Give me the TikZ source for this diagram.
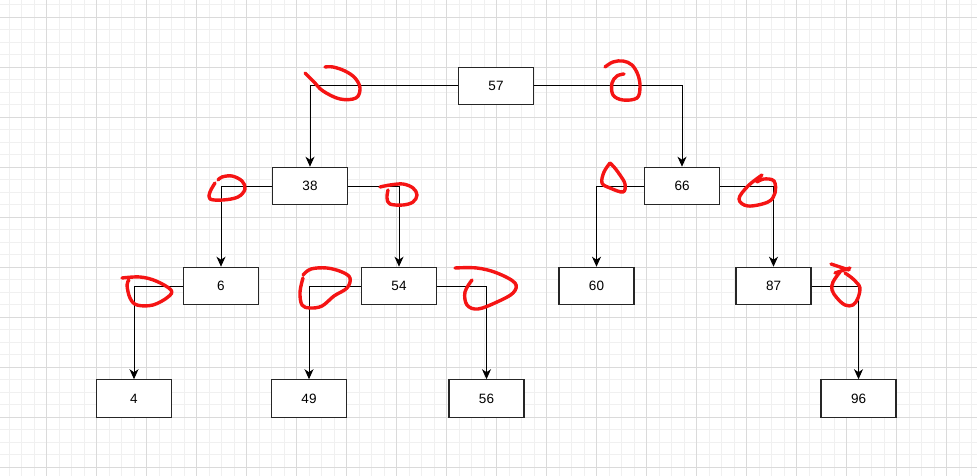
\documentclass[tikz,border=0pt]{standalone}
\usepackage{fontspec}
\setmainfont{Liberation Sans}
\usetikzlibrary{arrows.meta}
\definecolor{gridmajor}{RGB}{218,218,218}
\definecolor{gridminor}{RGB}{240,240,240}
\definecolor{scribble}{RGB}{245,20,20}
\tikzset{
  box/.style={draw=black!85, line width=1.1pt, fill=white, minimum width=75pt, minimum height=37.5pt, inner sep=0pt, font=\fontsize{13.5}{16}\selectfont},
  link/.style={draw=black, line width=1pt, -{Stealth[length=10pt,width=9pt,inset=3pt]}},
  mark red/.style={draw=scribble, line width=3.4pt, line cap=round, line join=round}
}
\begin{document}
\begin{tikzpicture}[x=1pt,y=-1pt]
\useasboundingbox (0,0) rectangle (977,476);
\fill[white] (0,0) rectangle (977,476);
% grid
\foreach \i in {0,...,78} {
  \draw[gridminor, line width=0.8pt] ({9.2+12.5*\i},0) -- ({9.2+12.5*\i},476);
}
\foreach \j in {0,...,38} {
  \draw[gridminor, line width=0.8pt] (0,{4.5+12.5*\j}) -- (977,{4.5+12.5*\j});
}
\foreach \i in {0,...,19} {
  \draw[gridmajor, line width=0.9pt] ({46.7+50*\i},0) -- ({46.7+50*\i},476);
}
\foreach \j in {0,...,9} {
  \draw[gridmajor, line width=0.9pt] (0,{17+50*\j}) -- (977,{17+50*\j});
}
% nodes
\node[box] (n57) at (496,86) {57};
\node[box] (n38) at (310,186) {38};
\node[box] (n66) at (682,186) {66};
\node[box] (n6)  at (221,286) {6};
\node[box] (n54) at (399,286) {54};
\node[box] (n60) at (596.5,286) {60};
\node[box] (n87) at (773.5,286) {87};
\node[box] (n4)  at (134,398.5) {4};
\node[box] (n49) at (309,398.5) {49};
\node[box] (n56) at (486.5,398.5) {56};
\node[box] (n96) at (858.5,398.5) {96};
% connectors
\draw[link] (n57.west) -| (n38.north);
\draw[link] (n57.east) -| (n66.north);
\draw[link] (n38.west) -| (n6.north);
\draw[link] (n38.east) -| (n54.north);
\draw[link] (n66.west) -| (n60.north);
\draw[link] (n66.east) -| (n87.north);
\draw[link] (n6.west) -| (n4.north);
\draw[link] (n54.west) -| (n49.north);
\draw[link] (n54.east) -| (n56.north);
\draw[link] (n87.east) -| (n96.north);
% red scribbles
\draw[mark red] plot[smooth, tension=0.6] coordinates {(305,73) (314,82) (323,91) (340,99) (356,98) (360,88) (355,78) (345,71) (333,67) (325,67)};
\draw[mark red] plot[smooth, tension=0.6] coordinates {(605,67) (613,62) (623,61) (632,65) (638,75) (640,87) (637,98) (623,100) (613,95) (612,83) (617,76) (624,74)};
\draw[mark red] plot[smooth, tension=0.6] coordinates {(215,183) (210,192) (210,199) (223,200) (238,197) (245,189) (242,181) (232,176) (222,177) (218,180)};
\draw[mark red] plot[smooth, tension=0.6] coordinates {(380,187) (390,185) (403,184) (413,188) (417,195) (413,202) (403,205) (390,204) (387,198) (388,190)};
\draw[mark red] plot[smooth, tension=0.6] coordinates {(610,163) (604,172) (602,183) (610,188) (623,192) (625,184) (620,175) (614,167) (610,163)};
\draw[mark red] plot[smooth, tension=0.6] coordinates {(762,175) (748,186) (739,199) (748,206) (768,202) (775,193) (774,181) (764,179) (757,182)};
\draw[mark red] plot[smooth, tension=0.6] coordinates {(122,278) (140,277) (156,281) (171,290) (168,297) (153,305) (137,305) (130,298) (127,285) (129,280)};
\draw[mark red] plot[smooth, tension=0.6] coordinates {(303,278) (300,292) (302,305) (310,308) (322,306) (334,296) (347,288) (350,278) (342,272) (327,268) (311,269) (303,275)};
\draw[mark red] plot[smooth, tension=0.6] coordinates {(455,268) (477,268) (497,273) (515,283) (513,293) (497,302) (478,309) (467,305) (465,292) (472,280)};
\draw[mark red] plot[smooth, tension=0.6] coordinates {(840,272) (833,282) (832,290) (837,298) (845,305) (853,305) (858,298) (860,288) (857,283) (852,278) (845,273)};
\draw[mark red] (831,264) -- (849,270);
\draw[mark red] (850,268) -- (835,273);
\end{tikzpicture}
\end{document}
